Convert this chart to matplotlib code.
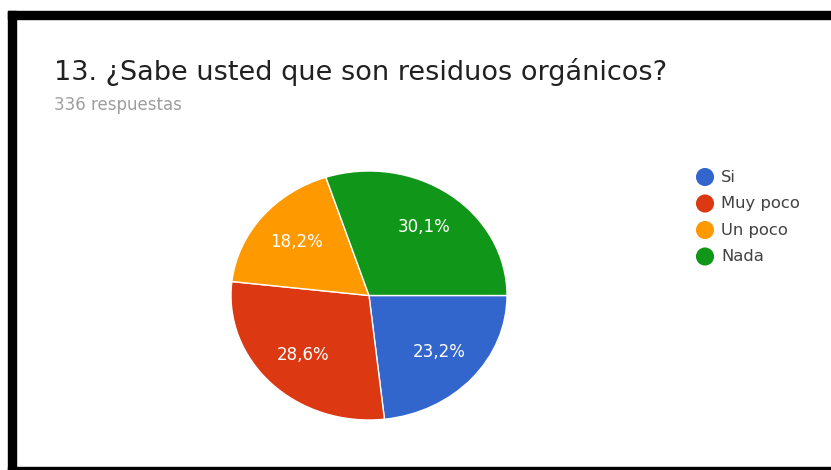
import matplotlib.pyplot as plt
from matplotlib.patches import Rectangle

categories = ["Si", "Muy poco", "Un poco", "Nada"]
counts = [78, 96, 61, 101]
colors = ["#3366CC", "#DC3912", "#FF9900", "#109618"]
title = "13. ¿Sabe usted que son residuos orgánicos?"
subtitle = "336 respuestas"

W, H = 831, 470
plt.rcParams['font.family'] = ['DejaVu Sans']

fig = plt.figure(figsize=(W / 100, H / 100), dpi=100)

# overlay in pixel coords for frame, title and legend
over = fig.add_axes([0, 0, 1, 1])
over.set_xlim(0, W)
over.set_ylim(H, 0)
over.axis('off')

# black frame (top, left, bottom)
over.add_patch(Rectangle((8, 11), W - 8, 8, color='black'))
over.add_patch(Rectangle((8, 11), 8, H - 11, color='black'))
over.add_patch(Rectangle((8, 467), W - 8, 3, color='black'))

over.text(54, 80, title, fontsize=19.5, color='#212121', va='baseline')
over.text(54, 110, subtitle, fontsize=12, color='#9e9e9e', va='baseline')

for i, (lab, col) in enumerate(zip(categories, colors)):
    y = 177 + i * 26.5
    over.scatter([705], [y], s=170, color=col, edgecolors='none')
    over.text(721, y, lab, fontsize=11.8, color='#424242', va='center')

# pie (elliptical like the screenshot)
ax = fig.add_axes([231 / W, (H - 420) / H, 276 / W, 249 / H])
wedges, texts, autotexts = ax.pie(
    counts, colors=colors, startangle=0, counterclock=False,
    autopct=lambda p: f"{p:.1f}%".replace('.', ','), pctdistance=0.68,
    wedgeprops=dict(edgecolor='white', linewidth=1),
    textprops=dict(color='white', fontsize=12))
ax.set_aspect('auto')
ax.set_xlim(-1, 1)
ax.set_ylim(-1, 1)

fig.savefig("out.png", dpi=100)
